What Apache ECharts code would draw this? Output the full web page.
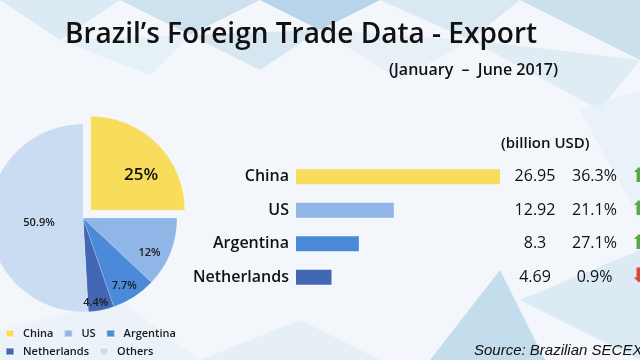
<!DOCTYPE html>
<html>
<head>
<meta charset="utf-8">
<script src="https://cdn.jsdelivr.net/npm/echarts@6/dist/echarts.min.js"></script>
<style>
html,body{margin:0;padding:0;background:#f3f7fb;}
#chart{width:640px;height:360px;}
</style>
</head>
<body>
<div id="chart"></div>
<script>
// ---- data ----
const pieNames = ['China', 'US', 'Argentina', 'Netherlands', 'Others'];
const pieShares = [25, 12, 7.7, 4.4, 50.9];
const barCountries = ['China', 'US', 'Argentina', 'Netherlands'];
const exportValues = [26.95, 12.92, 8.3, 4.69];
const yoyChange = [36.3, 21.1, 27.1, -0.9];
const titleText = 'Brazil\u2019s Foreign Trade Data - Export';
const periodText = '(January  \u2013  June 2017)';
const unitText = '(billion USD)';
const sourceText = 'Source: Brazilian SECEX';

// ---- style ----
const sliceColors = ['#f8dd5c', '#8fb6e6', '#4b8ad8', '#4267b5', '#c9dcf1'];
const FONT = 'Open Sans';
const labelNudge = [[15, 0], [20, 16], [14, 26], [3, 36], [6, 3]];

const chart = echarts.init(document.getElementById('chart'), null, {renderer: 'canvas'});

const bgPolys = [
  {pts: [[0,0],[120,0],[60,40]], c: '#d6e6f2'},
  {pts: [[120,0],[260,0],[190,35]], c: '#c4dbec'},
  {pts: [[260,0],[380,0],[320,30]], c: '#a9cbe3'},
  {pts: [[380,0],[520,0],[470,40]], c: '#d3e4f0'},
  {pts: [[520,0],[640,0],[640,60]], c: '#c0d8ea'},
  {pts: [[60,40],[190,35],[150,75]], c: '#e2edf6'},
  {pts: [[190,35],[320,30],[260,70]], c: '#d0e2ef'},
  {pts: [[320,30],[470,40],[400,80]], c: '#e4eef6'},
  {pts: [[470,40],[640,60],[600,110]], c: '#dbe9f3'},
  {pts: [[580,110],[640,90],[640,220]], c: '#e6f0f7'},
  {pts: [[430,360],[500,270],[545,360]], c: '#b7d6e9'},
  {pts: [[520,300],[640,250],[640,360]], c: '#d5e6f1'},
  {pts: [[0,330],[120,300],[200,360],[0,360]], c: '#e8f0f7'},
  {pts: [[200,360],[300,320],[380,360]], c: '#e2ecf5'}
];

const option = {
  backgroundColor: '#f3f7fb',
  animation: false,
  graphic: bgPolys.map(p => ({
    type: 'polygon', z: 0, silent: true,
    shape: {points: p.pts},
    style: {fill: p.c, opacity: 0.8}
  })),
  title: [
    {text: titleText, left: 60, top: 16,
     textStyle: {fontFamily: FONT, fontSize: 28, fontWeight: 600, color: '#111'}},
    {text: periodText, right: 77, top: 57,
     textStyle: {fontFamily: FONT, fontSize: 16, fontWeight: 600, color: '#111'}},
    {text: unitText, left: 496, top: 131,
     textStyle: {fontFamily: FONT, fontSize: 15, fontWeight: 600, color: '#111'}},
    {text: sourceText, left: 469, top: 338,
     textStyle: {fontFamily: 'Liberation Sans', fontSize: 15, fontStyle: 'italic', fontWeight: 'normal', color: '#111'}}
  ],
  legend: [
    {orient: 'horizontal', left: 0, top: 323, itemWidth: 8, itemHeight: 7, itemGap: 10,
     icon: 'rect', selectedMode: false,
     data: [
       {name: 'China', textStyle: {width: 48}},
       {name: 'US', textStyle: {width: 26}},
       {name: 'Argentina', textStyle: {width: 60}}
     ],
     textStyle: {fontFamily: FONT, fontSize: 11, fontWeight: 600, color: '#1a1a1a', padding: [0, 0, 0, 4]}},
    {orient: 'horizontal', left: 0, top: 341, itemWidth: 8, itemHeight: 7, itemGap: 10,
     icon: 'rect', selectedMode: false,
     data: [
       {name: 'Netherlands', textStyle: {width: 106}},
       {name: 'Others', textStyle: {width: 50}}
     ],
     textStyle: {fontFamily: FONT, fontSize: 11, fontWeight: 600, color: '#1a1a1a', padding: [0, 0, 0, 4]}}
  ],
  grid: {left: 296, top: 160, width: 212, height: 134, containLabel: false, outerBoundsMode: 'none'},
  xAxis: {type: 'value', min: 0, max: 28, show: false},
  yAxis: [
    {type: 'category', data: barCountries, inverse: true,
     axisLine: {show: false}, axisTick: {show: false}, splitLine: {show: false},
     axisLabel: {margin: 7, fontFamily: FONT, fontSize: 16, fontWeight: 600, color: '#111'}},
    {type: 'category', data: barCountries, inverse: true, position: 'right',
     axisLine: {show: false}, axisTick: {show: false}, splitLine: {show: false},
     axisLabel: {
       margin: 0,
       formatter: (v, i) => {
         const ch = yoyChange[i];
         const arrow = ch >= 0 ? '{up|\u2B06}' : '{dn|\u2B07}';
         return '{v|' + exportValues[i] + '}{p|' + Math.abs(ch) + '%}' + arrow;
       },
       rich: {
         v: {width: 54, align: 'right', fontFamily: FONT, fontSize: 16, fontWeight: 500, color: '#111'},
         p: {width: 65, align: 'right', fontFamily: FONT, fontSize: 16, fontWeight: 500, color: '#111'},
         up: {width: 14, align: 'left', padding: [0, 0, 0, 5], fontFamily: 'DejaVu Sans', fontSize: 20, color: '#58a84a'},
         dn: {width: 14, align: 'left', padding: [0, 0, 0, 5], fontFamily: 'DejaVu Sans', fontSize: 20, color: '#d8463c'}
       }
     }}
  ],
  series: [
    {
      type: 'bar', xAxisIndex: 0, yAxisIndex: 0, barWidth: 15,
      data: exportValues.map((v, i) => ({value: v, itemStyle: {color: sliceColors[i]}})),
      z: 3
    },
    {
      type: 'pie', center: [83, 218], radius: [0, 94], startAngle: 90, clockwise: true,
      selectedMode: 'multiple', selectedOffset: 11, avoidLabelOverlap: false,
      label: {show: true, position: 'inside', formatter: '{c}%', fontFamily: FONT, fontSize: 11, fontWeight: 600, color: '#1a1a1a'},
      labelLine: {show: false},
      labelLayout: (p) => ({dx: labelNudge[p.dataIndex][0], dy: labelNudge[p.dataIndex][1]}),
      emphasis: {disabled: true},
      itemStyle: {borderColor: 'rgba(255,255,255,0.4)', borderWidth: 0.5},
      data: pieNames.map((n, i) => ({
        name: n, value: pieShares[i], selected: i === 0,
        itemStyle: {color: sliceColors[i]},
        label: i === 0 ? {fontSize: 17, color: '#111'} : undefined
      })),
      z: 3
    }
  ]
};
chart.setOption(option);
</script>
</body>
</html>
